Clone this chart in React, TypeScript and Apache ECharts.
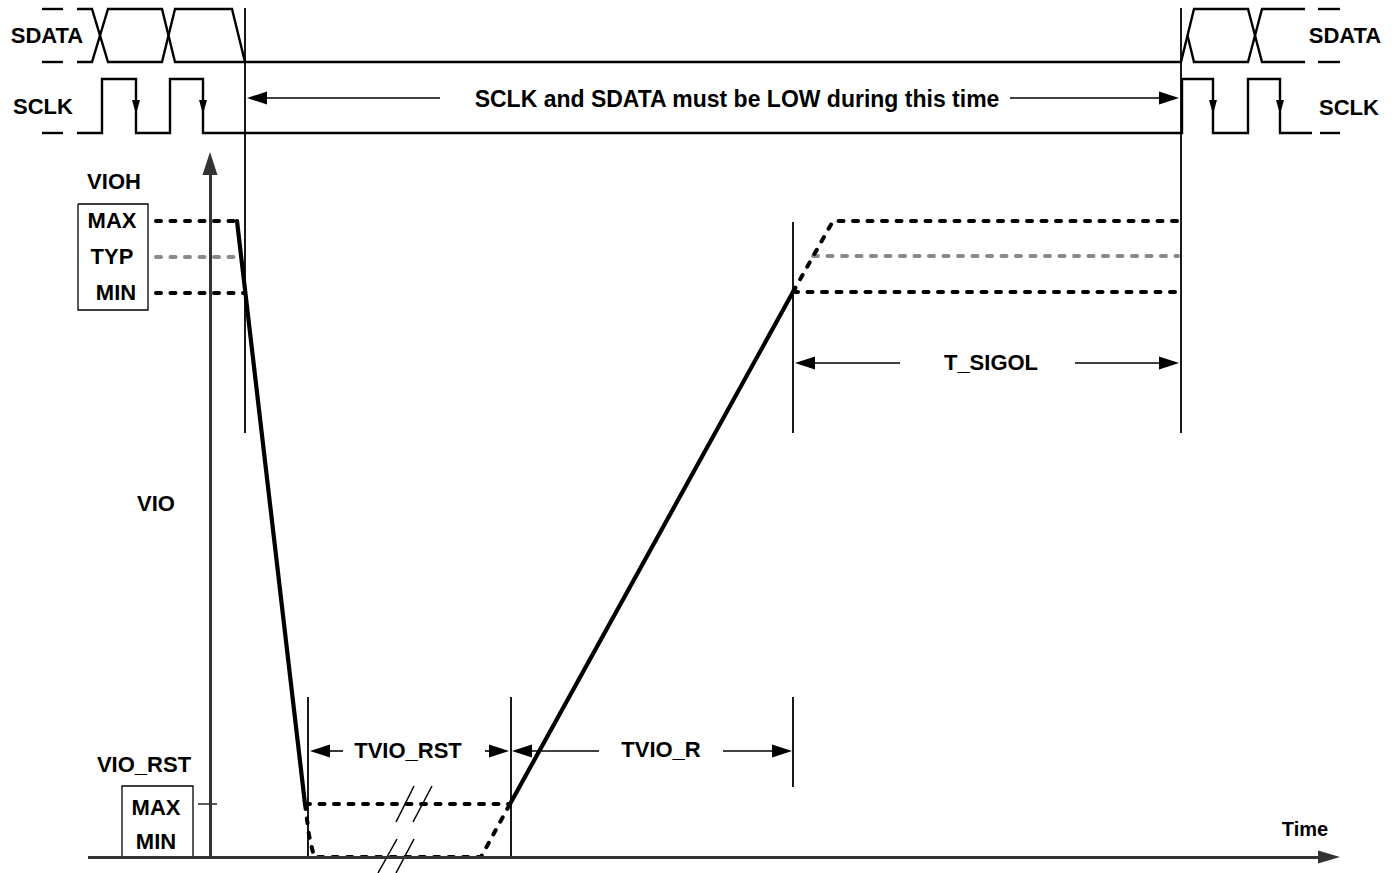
import React, { useEffect, useRef } from "react";
import * as echarts from "echarts";

type P = [number, number];

// ---- Diagram geometry (diagram units: x = time, y = level, top-down) ----
const sdataUpper: P[] = [[77, 9], [92, 9], [108, 62], [162, 62], [175, 9], [232, 9], [245, 62], [1181, 62], [1194, 9], [1248, 9], [1262, 62], [1305, 62]];
const sdataLower: P[] = [[77, 62], [92, 62], [108, 9], [162, 9], [175, 62], [245, 62]];
const sdataRightLower: P[] = [[1187.5, 35.5], [1194, 62], [1248, 62], [1262, 9], [1305, 9]];
const sdataDashes: P[][] = [[[42, 9], [63, 9]], [[42, 62], [63, 62]], [[1318, 9], [1340, 9]], [[1318, 62], [1340, 62]]];
const sclkWave: P[] = [[77, 133], [102, 133], [102, 79], [136, 79], [136, 133], [170, 133], [170, 79], [203, 79], [203, 133], [1182, 133], [1182, 79], [1213, 79], [1213, 133], [1248, 133], [1248, 79], [1280, 79], [1280, 133], [1312, 133]];
const sclkDashes: P[][] = [[[42, 133], [63, 133]], [[1320, 133], [1340, 133]]];
const sclkFallX: number[] = [136, 203, 1213, 1280];

const separators: P[][] = [
  [[245, 8], [245, 433]],
  [[1181, 8], [1181, 433]],
  [[308, 697], [308, 857]],
  [[511, 697], [511, 857]],
  [[793, 697], [793, 787]],
  [[793, 222], [793, 433]],
];

const boxes: P[][] = [
  [[78, 204], [148, 204], [148, 310], [78, 310], [78, 204]],
  [[122, 857], [122, 786], [193, 786], [193, 857]],
  [[198, 804], [217, 804]],
];
const breakMarks: P[][] = [
  [[396, 822], [414, 786]],
  [[413, 822], [432, 786]],
  [[378, 873], [397, 839]],
  [[396, 873], [414, 839]],
];

const vioSolid: P[][] = [
  [[237, 221], [305, 804]],
  [[510, 804], [793, 292]],
];
const levelDashedBlack: P[][] = [
  [[156, 221], [236, 221]],
  [[156, 293], [244, 293]],
  [[793, 292], [833, 221], [1180, 221]],
  [[793, 292], [1180, 292]],
  [[305, 804], [510, 804]],
  [[305, 804], [309, 835], [314, 857], [481, 857], [510, 804]],
];
const levelDashedGray: P[][] = [
  [[156, 257], [240, 257]],
  [[813, 256], [1178, 256]],
];

const axisY: [P, P] = [[210, 857], [210, 152]];
const axisX: [P, P] = [[88, 857], [1340, 857]];

// [tail, tip]
const dimArrows: [P, P][] = [
  [[440, 98], [247, 98]],
  [[1010, 98], [1179, 98]],
  [[343, 751], [310, 751]],
  [[485, 751], [509, 751]],
  [[599, 751], [512, 751]],
  [[723, 751], [792, 751]],
  [[900, 363], [795, 363]],
  [[1075, 363], [1179, 363]],
];

// [text, x, y, fontSize]
const labelItems: [string, number, number, number][] = [
  ["SDATA", 47, 35, 22],
  ["SDATA", 1345, 35, 22],
  ["SCLK", 43, 106, 22],
  ["SCLK", 1349, 107, 22],
  ["SCLK and SDATA must be LOW during this time", 737, 99, 23],
  ["VIOH", 114, 181, 22],
  ["MAX", 112, 220, 22],
  ["TYP", 112, 256, 22],
  ["MIN", 116, 292, 22],
  ["VIO", 156, 503, 22],
  ["VIO_RST", 144, 764, 22],
  ["MAX", 156, 807, 22],
  ["MIN", 156, 841, 22],
  ["TVIO_RST", 408, 750, 22],
  ["TVIO_R", 661, 749, 22],
  ["T_SIGOL", 991, 362, 22],
  ["Time", 1305, 829, 20],
];

function arrowItem(tail: P, tip: P, headLen: number) {
  const dx = tip[0] - tail[0];
  const dy = tip[1] - tail[1];
  const len = Math.hypot(dx, dy) || 1;
  const end: P = [tip[0] - (dx / len) * headLen / 2, tip[1] - (dy / len) * headLen / 2];
  return { coords: [tail, end] };
}

function polySeries(paths: P[][], lineStyle: any) {
  return {
    type: "lines",
    coordinateSystem: "cartesian2d",
    polyline: true,
    silent: true,
    symbol: "none",
    lineStyle: { opacity: 1, curveness: 0, ...lineStyle },
    data: paths.map((p) => ({ coords: p })),
  };
}

function arrowSeries(items: [P, P][], headW: number, headL: number, lineStyle: any) {
  return {
    type: "lines",
    coordinateSystem: "cartesian2d",
    silent: true,
    symbol: ["none", "triangle"],
    symbolSize: [[headW, headL], [headW, headL]],
    lineStyle: { opacity: 1, curveness: 0, ...lineStyle },
    itemStyle: { color: lineStyle.color },
    data: items.map(([a, b]) => arrowItem(a, b, headL)),
  };
}

const dash = { type: [5, 9.5], cap: "round", width: 4 };
const FONT = "'Liberation Sans', Arial, sans-serif";

function buildOption() {
  return {
    animation: false,
    backgroundColor: "#ffffff",
    grid: { left: 0, right: 0, top: 0, bottom: 0 },
    xAxis: { type: "value", min: 0, max: 1395, show: false },
    yAxis: { type: "value", min: 0, max: 873, inverse: true, show: false },
    series: [
      polySeries([sdataUpper, sdataLower, sdataRightLower, ...sdataDashes, sclkWave, ...sclkDashes], { color: "#000", width: 2.4, join: "miter" }),
      polySeries(separators, { color: "#000", width: 1.8 }),
      polySeries(boxes, { color: "#000", width: 1.3 }),
      polySeries(breakMarks, { color: "#000", width: 1.5 }),
      polySeries(levelDashedGray, { color: "#8a8a8a", ...dash }),
      polySeries(levelDashedBlack, { color: "#000", ...dash }),
      polySeries(vioSolid, { color: "#000", width: 4.2, cap: "round" }),
      arrowSeries([axisY], 15, 23, { color: "#333", width: 3 }),
      arrowSeries([axisX], 13, 22, { color: "#333", width: 3 }),
      arrowSeries(dimArrows, 13, 20, { color: "#000", width: 1.6 }),
      arrowSeries(sclkFallX.map((x) => [[x, 92], [x, 114]] as [P, P]), 8, 14, { color: "#000", width: 2 }),
      {
        type: "custom",
        coordinateSystem: "cartesian2d",
        silent: true,
        encode: { x: 1, y: 2 },
        data: labelItems.map(([t, x, y, s]) => [t, x, y, s]),
        renderItem: (params: any, api: any) => {
          const item = labelItems[params.dataIndex];
          const pt = api.coord([api.value(1), api.value(2)]);
          return {
            type: "text",
            x: pt[0],
            y: pt[1],
            style: {
              text: item[0],
              fill: "#000000",
              font: `bold ${item[3]}px ${FONT}`,
              align: "center",
              verticalAlign: "middle",
            },
          };
        },
      },
    ],
  };
}

export default function App() {
  const ref = useRef<HTMLDivElement>(null);
  useEffect(() => {
    if (!ref.current) return;
    const chart = echarts.init(ref.current, null, { renderer: "svg" });
    chart.setOption(buildOption() as any);
    return () => chart.dispose();
  }, []);
  return (
    <div
      ref={ref}
      style={{ position: "absolute", left: 0, top: 0, width: 1395, height: 873, background: "#fff" }}
    />
  );
}
